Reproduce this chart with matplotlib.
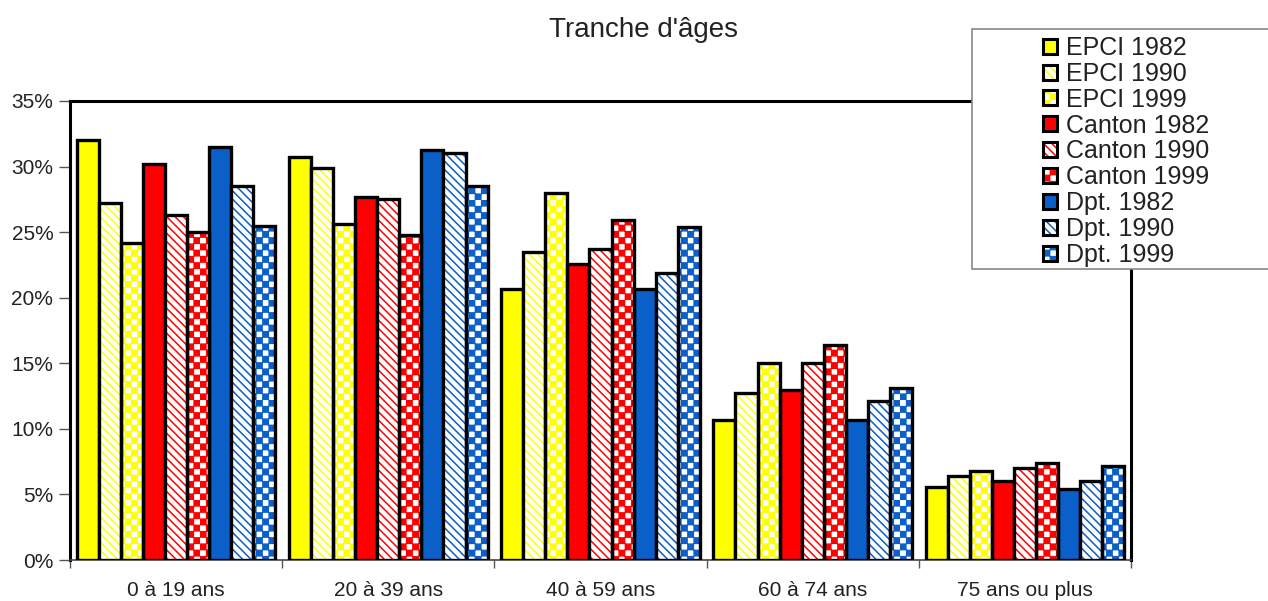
import warnings
warnings.filterwarnings("ignore")
import numpy as np
import matplotlib
matplotlib.use("Agg")
import matplotlib.pyplot as plt
import matplotlib.hatch as mhatch
from matplotlib.path import Path
from matplotlib.patches import Patch, Rectangle
from matplotlib.legend_handler import HandlerTuple
from matplotlib.ticker import FuncFormatter

# ---------------- data ----------------
categories = ["0 à 19 ans", "20 à 39 ans", "40 à 59 ans", "60 à 74 ans", "75 ans ou plus"]
series_labels = ["EPCI 1982", "EPCI 1990", "EPCI 1999",
                 "Canton 1982", "Canton 1990", "Canton 1999",
                 "Dpt. 1982", "Dpt. 1990", "Dpt. 1999"]
epci_1982 = [32.0, 30.7, 20.7, 10.7, 5.6]
epci_1990 = [27.2, 29.9, 23.5, 12.7, 6.4]
epci_1999 = [24.2, 25.6, 28.0, 15.0, 6.8]
canton_1982 = [30.2, 27.7, 22.6, 13.0, 6.0]
canton_1990 = [26.3, 27.5, 23.7, 15.0, 7.0]
canton_1999 = [25.0, 24.8, 25.9, 16.4, 7.4]
dpt_1982 = [31.5, 31.3, 20.7, 10.7, 5.4]
dpt_1990 = [28.5, 31.0, 21.9, 12.1, 6.0]
dpt_1999 = [25.5, 28.5, 25.4, 13.1, 7.2]
series_values = [epci_1982, epci_1990, epci_1999,
                 canton_1982, canton_1990, canton_1999,
                 dpt_1982, dpt_1990, dpt_1999]
yticks = [0, 5, 10, 15, 20, 25, 30, 35]
title = "Tranche d'âges"

# ---------------- custom checkerboard hatch ----------------
class CheckerHatch(mhatch.HatchPatternBase):
    def __init__(self, hatch, density):
        c = hatch.count('#')
        self.n = 8 * c
        self.num_vertices = (self.n * self.n // 2) * 5 if self.n else 0

    def set_vertices_and_codes(self, vertices, codes):
        n = self.n
        s = 1.0 / n
        e = 0.004
        idx = 0
        for i in range(n):
            for j in range(n):
                if (i + j) % 2 == 0:
                    x0, y0 = i * s + e, j * s + e
                    x1, y1 = (i + 1) * s - e, (j + 1) * s - e
                    vertices[idx:idx + 5] = [[x0, y0], [x1, y0], [x1, y1], [x0, y1], [x0, y0]]
                    codes[idx:idx + 5] = [Path.MOVETO, Path.LINETO, Path.LINETO,
                                          Path.LINETO, Path.CLOSEPOLY]
                    idx += 5

mhatch._hatch_types.append(CheckerHatch)

plt.rcParams['font.family'] = ['Liberation Sans', 'DejaVu Sans']
plt.rcParams['hatch.linewidth'] = 1.1

yellow = '#FFFF00'
red = '#FF0000'
blue = '#0A5FC8'
colors = [yellow] * 3 + [red] * 3 + [blue] * 3
hatches = [None, '\\' * 4, '##'] * 3

fig = plt.figure(figsize=(12.68, 6.01), dpi=100)
ax = fig.add_axes([70 / 1268, 1 - 560 / 601, 1061 / 1268, 459 / 601])

x = np.arange(len(categories))
w = 0.104
lw = 2.4
handles = []
for k, (vals, col, h) in enumerate(zip(series_values, colors, hatches)):
    pos = x + (k - 4) * w
    if h is None:
        ax.bar(pos, vals, width=w, color=col, edgecolor='black', linewidth=lw, zorder=3)
        handles.append(Patch(facecolor=col, edgecolor='black', linewidth=2.2))
    else:
        ax.bar(pos, vals, width=w, color='white', edgecolor=col, hatch=h, linewidth=0, zorder=3)
        ax.bar(pos, vals, width=w, fill=False, edgecolor='black', linewidth=lw, zorder=4)
        handles.append((Patch(facecolor='white', edgecolor=col, hatch=h, linewidth=0),
                        Patch(facecolor='none', edgecolor='black', linewidth=2.2)))

ax.set_xlim(-0.5, len(categories) - 0.5)
ax.set_ylim(0, 35)
ax.set_yticks(yticks)
ax.yaxis.set_major_formatter(FuncFormatter(lambda v, p: f"{int(v)}%"))
ax.set_xticks(x)
ax.set_xticklabels(categories, fontsize=15, color='#222222')
ax.set_xticks(np.arange(-0.5, len(categories)), minor=True)
ax.tick_params(axis='x', which='major', length=0, pad=15)
ax.tick_params(axis='x', which='minor', length=6, width=1, color='#555555')
ax.tick_params(axis='y', length=8, width=1, color='#555555', labelsize=15,
               labelcolor='#222222', pad=4)

for s in ['left', 'top', 'right']:
    ax.spines[s].set_linewidth(2.2)
    ax.spines[s].set_color('black')
ax.spines['bottom'].set_linewidth(1.2)
ax.spines['bottom'].set_color('#444444')

fig.text(644 / 1268, 1 - 30 / 601, title, ha='center', va='center', fontsize=20, color='#222222')

# legend frame
frame = Rectangle((972 / 1268, 1 - 269 / 601), 310 / 1268, 240 / 601,
                  transform=fig.transFigure, facecolor='white', edgecolor='#888888',
                  linewidth=1.2, zorder=5)
fig.add_artist(frame)
leg = fig.legend(handles, series_labels, loc='upper left',
                 bbox_to_anchor=(1043 / 1268, 1 - 36 / 601),
                 frameon=False, fontsize=18, handlelength=0.55, handleheight=0.55,
                 handletextpad=0.35, labelspacing=0.075, borderpad=0, borderaxespad=0,
                 handler_map={tuple: HandlerTuple(ndivide=1, pad=0)})
leg.set_zorder(6)
for t in leg.get_texts():
    t.set_color('#222222')

fig.savefig('out.png', dpi=100)
